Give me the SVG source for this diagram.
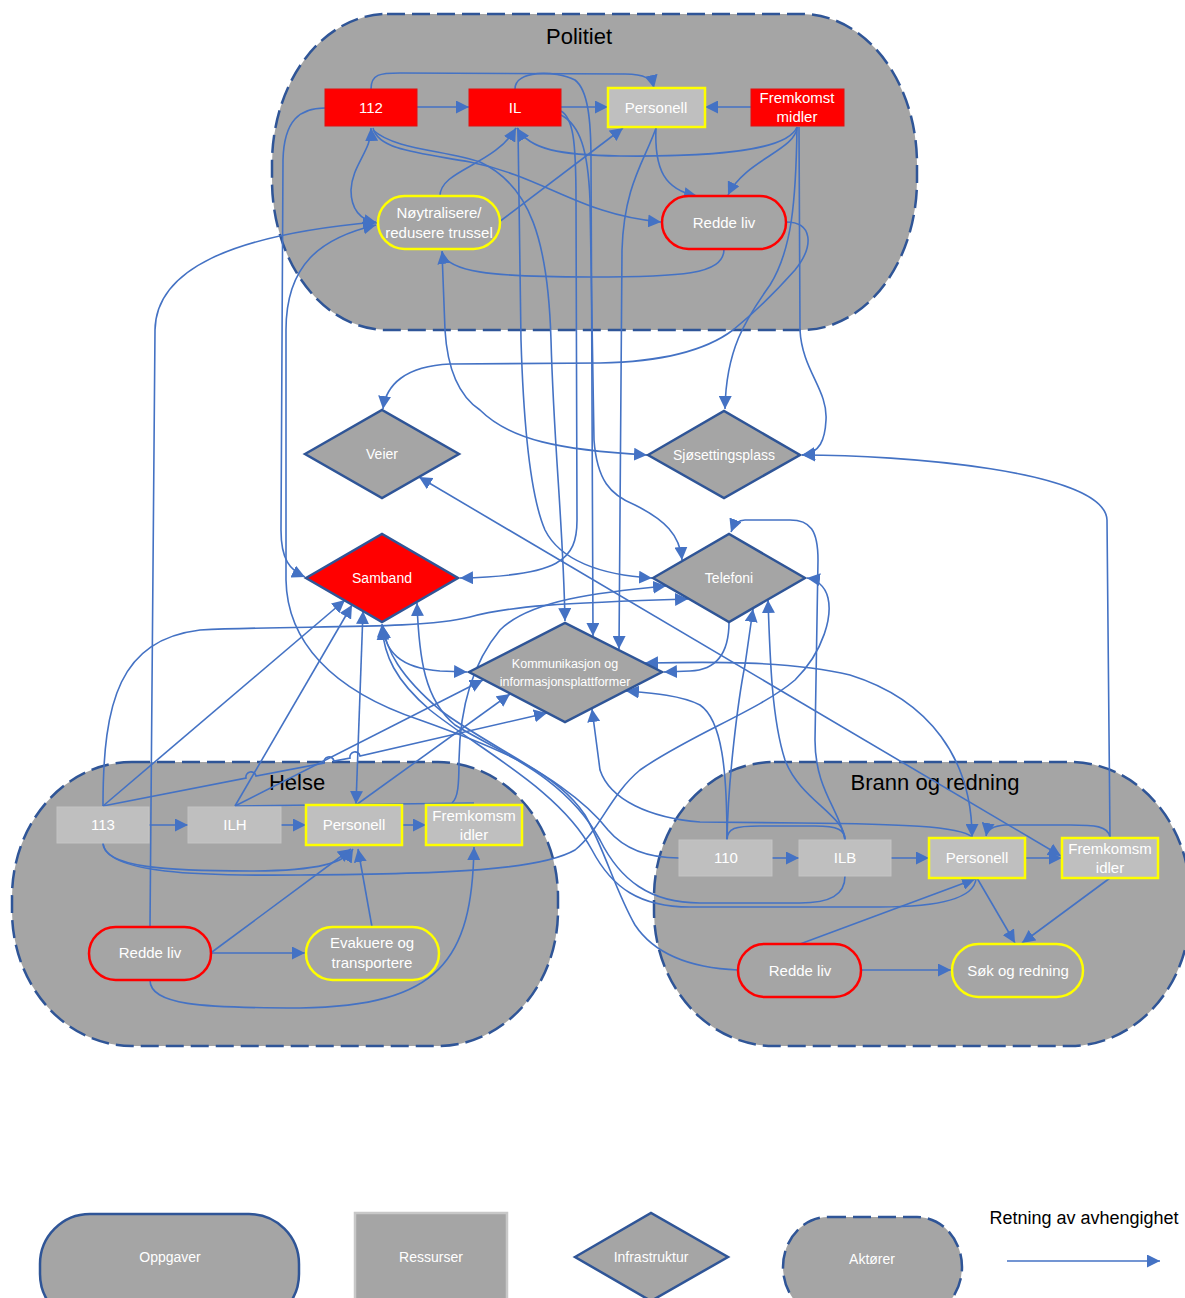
<svg xmlns="http://www.w3.org/2000/svg" width="1185" height="1298" viewBox="0 0 1185 1298">
<defs>
<marker id="ah" viewBox="0 0 10 10" refX="10" refY="5" markerWidth="13" markerHeight="13" markerUnits="userSpaceOnUse" orient="auto-start-reverse"><path d="M0,0 L10,5 L0,10 z" fill="#4472c4"/></marker>
<style>
.actor{fill:#a5a5a5;stroke:#2f5597;stroke-width:2.5;stroke-dasharray:18 7}
.title{font-family:"Liberation Sans",Arial,sans-serif;font-size:22px;fill:#000;text-anchor:middle}
.lbl{font-family:"Liberation Sans",Arial,sans-serif;font-size:15px;fill:#fff;text-anchor:middle}
.dl{font-family:"Liberation Sans",Arial,sans-serif;font-size:14px;fill:#fff;text-anchor:middle}
.red{fill:#ff0000;stroke:#e01010;stroke-width:1}
.res{fill:#bfbfbf;stroke:#c4c4c4;stroke-width:1}
.resy{fill:#bfbfbf;stroke:#ffff00;stroke-width:2.5}
.pr{fill:#a5a5a5;stroke:#ff0000;stroke-width:2.5}
.py{fill:#a5a5a5;stroke:#ffff00;stroke-width:2.5}
.dia{fill:#a5a5a5;stroke:#2f5597;stroke-width:2.5;stroke-linejoin:miter}
.c{fill:none;stroke:#4472c4;stroke-width:1.6}
.e{marker-end:url(#ah)}
.b{marker-start:url(#ah);marker-end:url(#ah)}
</style>
</defs>
<rect width="1185" height="1298" fill="#ffffff"/>

<g id="actor-politiet"><rect class="actor" x="272" y="14" width="645" height="316" rx="115" ry="150"/><text class="title" x="579" y="44">Politiet</text></g>
<g id="actor-helse"><rect class="actor" x="12" y="762" width="546" height="284" rx="120" ry="135"/><text class="title" x="297" y="790">Helse</text></g>
<g id="actor-brann"><rect class="actor" x="654" y="762" width="536" height="284" rx="120" ry="135"/><text class="title" x="935" y="790">Brann og redning</text></g>

<g id="connectors">
<path class="c e" d="M417,107 L469,107"/>
<path class="c e" d="M561,107 L608,107"/>
<path class="c e" d="M751,107 L705,107"/>
<path class="c e" d="M371,89 C371,74 380,73 400,73 L625,74 C645,74 652,79 654,88"/>
<path class="c e" d="M656,127 C654,170 665,190 697,196"/>
<path class="c e" d="M797,127 C796,150 745,160 728,195"/>
<path class="c e" d="M797,127 C788,150 720,157 620,156 C560,155 530,150 517,128"/>
<path class="c e" d="M373,128 C378,150 420,153 470,162 C545,177 580,215 661,222"/>
<path class="c b" d="M371,128 C372,150 352,165 351,190 C351,210 360,220 377,223"/>
<path class="c e" d="M440,196 C440,170 495,165 516,128"/>
<path class="c e" d="M499,222 L623,128"/>
<path class="c e" d="M724,249 C724,275 680,277 590,277 C490,277 445,272 442,251"/>
<path class="c e" d="M373,130 C395,150 445,150 480,162 C530,185 548,240 551,340 C554,450 563,520 565,621"/>
<path class="c e" d="M518,128 L521,340 C524,440 532,500 545,530 C560,560 600,575 652,578"/>
<path class="c e" d="M515,89 C515,70 555,70 575,80 C588,90 591,120 591,160 L593,636"/>
<path class="c e" d="M561,111 C573,118 576,140 576,200 L577,520 C577,560 560,576 460,578"/>
<path class="c e" d="M561,115 C580,125 588,150 590,200 L594,440 C597,480 610,495 635,505 C665,520 680,535 682,560"/>
<path class="c e" d="M656,128 C645,160 624,185 622,250 L619,649"/>
<path class="c e" d="M786,222 C812,222 815,245 795,270 C770,298 748,318 733,330 C700,355 650,362 600,363 L450,364 C405,366 386,385 383,409"/>
<path class="c e" d="M797,127 C796,200 792,250 770,285 C745,320 726,350 725,409"/>
<path class="c e" d="M799,127 L800,330 C802,370 828,390 826,420 C825,440 820,453 802,455"/>
<path class="c e" d="M442,252 L445,330 C448,380 465,400 480,410 C510,440 560,450 647,455"/>
<path class="c e" d="M325,108 C300,108 284,120 283,160 L281,530 C281,560 290,570 305,577"/>
<path class="c e" d="M738,970 C690,968 655,955 635,925 C615,890 605,850 585,815 C555,770 490,745 420,720 C330,690 287,640 286,580 L286,330 C286,265 320,238 376,225"/>
<path class="c e" d="M150,927 L155,330 C156,270 230,235 376,222"/>
<path class="c e" d="M149,825 L188,825"/>
<path class="c e" d="M281,825 L306,825"/>
<path class="c e" d="M402,825 L426,825"/>
<path class="c e" d="M103,806 L345,600"/>
<path class="c e" d="M103,806 C103,700 120,640 200,630 C300,625 420,630 470,617 C510,606 560,603 688,599"/>
<path class="c e" d="M103,806 L246,778 a5,5 0 0 1 10,-2 L324,763 a5,5 0 0 1 10,-2 L350,758 a5,5 0 0 1 10,-2 L547,713"/>
<path class="c e" d="M235,806 L352,605"/>
<path class="c e" d="M235,806 L483,680"/>
<path class="c" d="M235,806 L474,803"/>
<path class="c e" d="M452,803 C458,798 459,785 459,760 C460,700 475,660 500,630 C530,600 600,592 666,586"/>
<path class="c b" d="M363,611 L356,804"/>
<path class="c e" d="M356,805 L510,694"/>
<path class="c e" d="M211,953 L305,953"/>
<path class="c e" d="M212,952 L351,849"/>
<path class="c e" d="M372,927 L358,849"/>
<path class="c e" d="M150,980 C150,1005 200,1008 300,1008 C440,1006 472,960 474,847"/>
<path class="c e" d="M103,843 C103,868 170,871 250,871 C320,871 345,862 353,849"/>
<path class="c e" d="M103,843 C106,874 200,876 300,875 C450,874 540,870 575,850 C600,830 610,795 640,770 C690,735 760,710 795,680 C825,650 832,615 828,598 C825,585 815,579 807,578"/>
<path class="c b" d="M382,624 C385,652 400,668 440,671 L467,672"/>
<path class="c b" d="M419,477 L1061,856"/>
<path class="c e" d="M729,622 C729,652 718,670 690,671 L664,672"/>
<path class="c b" d="M972,837 C972,760 930,700 850,675 C790,660 700,662 645,663"/>
<path class="c e" d="M972,837 C960,826 900,824 800,823 L700,822 C650,818 610,800 600,770 L592,709"/>
<path class="c e" d="M1110,837 C1108,826 1095,825 1070,825 L1005,825 C992,826 987,830 986,836"/>
<path class="c e" d="M1110,837 L1107,520 C1105,470 900,455 802,455"/>
<path class="c e" d="M772,858 L799,858"/>
<path class="c e" d="M891,858 L929,858"/>
<path class="c e" d="M1025,858 L1062,858"/>
<path class="c e" d="M977,878 L1015,943"/>
<path class="c e" d="M1110,878 L1022,943"/>
<path class="c e" d="M861,970 L951,970"/>
<path class="c e" d="M800,944 L975,879"/>
<path class="c" d="M727,840 C727,828 735,826 760,826 L815,826 C838,826 845,830 845,840"/>
<path class="c e" d="M727,840 C727,770 722,720 700,705 C680,695 650,693 626,691"/>
<path class="c e" d="M727,840 C728,780 738,700 745,665 L753,609"/>
<path class="c e" d="M845,840 C845,815 800,800 785,760 C772,720 770,660 768,600"/>
<path class="c e" d="M845,840 C840,810 815,790 815,740 L818,560 C818,530 810,520 790,520 L745,520 C738,520 734,524 731,532"/>
<path class="c e" d="M679,858 C650,858 625,850 608,830 C570,780 490,748 440,710 C400,676 386,650 383,626"/>
<path class="c e" d="M845,876 C845,895 830,903 800,903 L700,903 C650,903 620,880 600,840 C565,775 495,750 455,725 C425,700 419,660 417,603"/>
<path class="c e" d="M976,879 C974,897 945,907 880,907 L690,907 C640,907 612,888 592,850 C560,790 480,750 430,710 C395,680 384,655 382,627"/>
</g>

<g id="n-112"><rect class="red" x="325" y="89" width="92" height="37"/><text class="lbl" x="371" y="113">112</text></g>
<g id="n-il"><rect class="red" x="469" y="89" width="92" height="37"/><text class="lbl" x="515" y="113">IL</text></g>
<g id="n-pol-personell"><rect class="resy" x="608" y="88" width="97" height="39"/><text class="lbl" x="656" y="113">Personell</text></g>
<g id="n-pol-fremkomst"><rect class="red" x="751" y="89" width="93" height="37"/><text class="lbl" x="797" y="103">Fremkomst</text><text class="lbl" x="797" y="122">midler</text></g>
<g id="n-noytralisere"><rect class="py" x="378" y="196" width="122" height="53" rx="26.5"/><text class="lbl" x="439" y="218">Nøytralisere/</text><text class="lbl" x="439" y="238">redusere trussel</text></g>
<g id="n-pol-redde"><rect class="pr" x="662" y="196" width="124" height="53" rx="26.5"/><text class="lbl" x="724" y="228">Redde liv</text></g>

<g id="n-veier"><path class="dia" d="M305,454 L382,410 L459,454 L382,498 Z"/><text class="dl" x="382" y="459">Veier</text></g>
<g id="n-sjo"><path class="dia" d="M648,455 L724,411 L800,455 L724,498 Z"/><text class="dl" x="724" y="460">Sjøsettingsplass</text></g>
<g id="n-samband"><path class="dia" d="M306,578 L382,534 L458,578 L382,622 Z" style="fill:#ff0000"/><text class="dl" x="382" y="583">Samband</text></g>
<g id="n-telefoni"><path class="dia" d="M653,578 L729,534 L805,578 L729,622 Z"/><text class="dl" x="729" y="583">Telefoni</text></g>
<g id="n-komm"><path class="dia" d="M469,672 L565,623 L662,672 L565,722 Z"/><text class="dl" x="565" y="668" style="font-size:12.5px">Kommunikasjon og</text><text class="dl" x="565" y="686" style="font-size:12.5px">informasjonsplattformer</text></g>

<g id="n-113"><rect class="res" x="57" y="807" width="92" height="36"/><text class="lbl" x="103" y="830">113</text></g>
<g id="n-ilh"><rect class="res" x="188" y="807" width="93" height="36"/><text class="lbl" x="235" y="830">ILH</text></g>
<g id="n-hel-personell"><rect class="resy" x="306" y="805" width="96" height="40"/><text class="lbl" x="354" y="830">Personell</text></g>
<g id="n-hel-fremkomsm"><rect class="resy" x="426" y="805" width="96" height="40"/><text class="lbl" x="474" y="821">Fremkomsm</text><text class="lbl" x="474" y="840">idler</text></g>
<g id="n-hel-redde"><rect class="pr" x="89" y="927" width="122" height="53" rx="26.5"/><text class="lbl" x="150" y="958">Redde liv</text></g>
<g id="n-evakuere"><rect class="py" x="306" y="927" width="133" height="53" rx="26.5"/><text class="lbl" x="372" y="948">Evakuere og</text><text class="lbl" x="372" y="968">transportere</text></g>

<g id="n-110"><rect class="res" x="679" y="840" width="93" height="36"/><text class="lbl" x="726" y="863">110</text></g>
<g id="n-ilb"><rect class="res" x="799" y="840" width="92" height="36"/><text class="lbl" x="845" y="863">ILB</text></g>
<g id="n-br-personell"><rect class="resy" x="929" y="838" width="96" height="40"/><text class="lbl" x="977" y="863">Personell</text></g>
<g id="n-br-fremkomsm"><rect class="resy" x="1062" y="838" width="96" height="40"/><text class="lbl" x="1110" y="854">Fremkomsm</text><text class="lbl" x="1110" y="873">idler</text></g>
<g id="n-br-redde"><rect class="pr" x="738" y="944" width="123" height="53" rx="26.5"/><text class="lbl" x="800" y="976">Redde liv</text></g>
<g id="n-sok"><rect class="py" x="952" y="944" width="131" height="53" rx="26.5"/><text class="lbl" x="1018" y="976">Søk og redning</text></g>

<g id="legend">
<rect x="40" y="1214" width="259" height="110" rx="50" fill="#a5a5a5" stroke="#2f5597" stroke-width="2.5"/>
<text class="dl" x="170" y="1262">Oppgaver</text>
<rect x="355" y="1213" width="152" height="100" fill="#a5a5a5" stroke="#c8c8c8" stroke-width="2.5"/>
<text class="dl" x="431" y="1262">Ressurser</text>
<path class="dia" d="M575,1257 L651,1213 L728,1257 L651,1301 Z"/>
<text class="dl" x="651" y="1262">Infrastruktur</text>
<rect class="actor" x="783" y="1217" width="179" height="100" rx="45" ry="50"/>
<text class="dl" x="872" y="1264">Aktører</text>
<text x="1084" y="1224" style="font-family:'Liberation Sans',Arial,sans-serif;font-size:18px;fill:#000;text-anchor:middle">Retning av avhengighet</text>
<path class="c e" d="M1007,1261 L1160,1261"/>
</g>
</svg>
